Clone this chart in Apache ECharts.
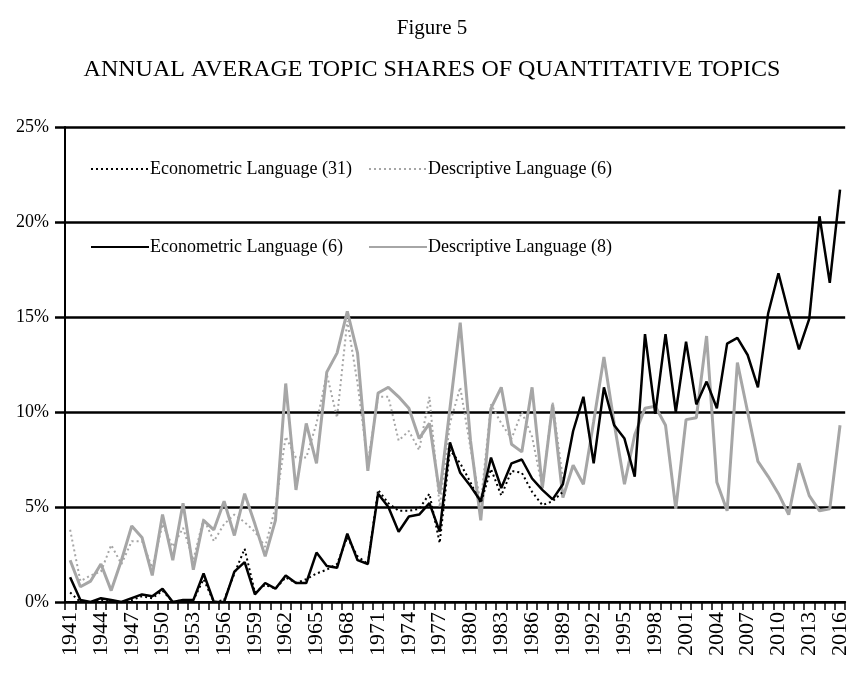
<!DOCTYPE html>
<html>
<head>
<meta charset="utf-8">
<script src="https://cdn.jsdelivr.net/npm/echarts@6/dist/echarts.min.js"></script>
<style>
  html, body { margin: 0; padding: 0; background: #fff; }
  #main { width: 851px; height: 684px; }
</style>
</head>
<body>
<div id="main"></div>
<script>
// years on the x axis
const years = [];
for (let y = 1941; y <= 2016; y++) years.push(String(y));

// annual average topic shares (%)
const econ31 = [0.5, 0.0, 0.0, 0.1, 0.1, 0.0, 0.1, 0.3, 0.2, 0.6,
  0.0, 0.1, 0.1, 1.2, 0.0, 0.1, 1.5, 2.8, 0.5, 0.9,
  0.7, 1.3, 1.0, 1.2, 1.5, 1.7, 2.0, 3.4, 2.4, 2.0,
  5.9, 5.2, 4.8, 4.8, 4.9, 5.7, 3.1, 8.0, 7.3, 6.3,
  5.2, 7.0, 5.6, 6.9, 6.8, 5.8, 5.1, 5.3, 5.8];

const desc6 = [3.8, 1.1, 1.4, 1.6, 3.0, 2.0, 3.2, 3.2, 1.8, 4.1,
  2.9, 3.9, 2.2, 4.4, 3.2, 4.1, 4.6, 4.2, 3.7, 2.9,
  5.0, 8.7, 7.6, 7.6, 9.4, 12.0, 9.7, 14.8, 11.5, 7.3,
  10.8, 10.8, 8.5, 9.0, 8.0, 10.8, 5.0, 9.4, 11.3, 8.1,
  5.2, 10.4, 9.4, 8.6, 10.0, 8.7, 6.0, 10.5, 6.5];

const econ6 = [1.3, 0.1, 0.0, 0.2, 0.1, 0.0, 0.2, 0.4, 0.3, 0.7,
  0.0, 0.1, 0.1, 1.5, 0.0, 0.0, 1.6, 2.1, 0.4, 1.0,
  0.7, 1.4, 1.0, 1.0, 2.6, 1.9, 1.8, 3.6, 2.2, 2.0,
  5.7, 5.0, 3.7, 4.5, 4.6, 5.2, 3.7, 8.4, 6.8, 6.1,
  5.3, 7.6, 6.0, 7.3, 7.5, 6.5, 5.9, 5.4, 6.2, 9.0,
  10.8, 7.3, 11.3, 9.3, 8.6, 6.6, 14.1, 9.9, 14.1, 10.0,
  13.7, 10.4, 11.6, 10.2, 13.6, 13.9, 13.0, 11.3, 15.2, 17.3,
  15.2, 13.3, 14.9, 20.3, 16.8, 21.7];

const desc8 = [2.2, 0.8, 1.1, 2.0, 0.6, 2.2, 4.0, 3.4, 1.4, 4.6,
  2.2, 5.2, 1.7, 4.3, 3.8, 5.3, 3.5, 5.7, 4.1, 2.4,
  4.3, 11.5, 5.9, 9.4, 7.3, 12.1, 13.1, 15.3, 13.1, 6.9,
  11.0, 11.3, 10.8, 10.2, 8.6, 9.4, 5.7, 10.2, 14.7, 8.5,
  4.3, 10.2, 11.3, 8.3, 7.9, 11.3, 6.0, 10.4, 5.5, 7.2,
  6.2, 9.5, 12.9, 9.4, 6.2, 8.8, 10.2, 10.3, 9.3, 4.9,
  9.6, 9.7, 14.0, 6.3, 4.8, 12.6, 10.0, 7.4, 6.6, 5.7,
  4.6, 7.3, 5.6, 4.8, 4.9, 9.3];

const yTicks = [0, 5, 10, 15, 20, 25];

const serif = 'Liberation Serif';
const gray = '#a6a6a6';

function legendItem(name, left, top) {
  return {
    data: [name],
    left: left,
    top: top,
    padding: 0,
    orient: 'horizontal',
    itemWidth: 58,
    itemHeight: 12,
    itemStyle: { opacity: 0 },
    selectedMode: false,
    textStyle: { fontFamily: serif, fontSize: 18, color: '#000', padding: [0, 0, 0, -4] }
  };
}

let chart = echarts.init(document.getElementById('main'));

let option = {
  animation: false,
  backgroundColor: '#fff',
  graphic: [
    {
      type: 'text', x: 432, y: 28,
      style: { text: 'Figure 5', fontFamily: serif, fontSize: 21, fill: '#000', textAlign: 'center', textVerticalAlign: 'middle' }
    },
    {
      type: 'text', x: 432, y: 70,
      style: { text: 'ANNUAL AVERAGE TOPIC SHARES OF QUANTITATIVE TOPICS', fontFamily: serif, fontSize: 24, fill: '#000', textAlign: 'center', textVerticalAlign: 'middle' }
    }
  ],
  legend: [
    legendItem('Econometric Language (31)', 90, 160),
    legendItem('Descriptive Language (6)', 368, 160),
    legendItem('Econometric Language (6)', 90, 238),
    legendItem('Descriptive Language (8)', 368, 238)
  ],
  grid: { left: 65, right: 0, top: 127, bottom: 82, containLabel: false },
  xAxis: {
    type: 'category',
    data: years,
    boundaryGap: true,
    axisLine: { lineStyle: { color: '#000', width: 2 } },
    axisTick: { show: true, interval: 0, length: 8, lineStyle: { color: '#000', width: 1.5 } },
    axisLabel: {
      interval: 2,
      rotate: 90,
      margin: 10,
      fontFamily: serif,
      fontSize: 22,
      color: '#000'
    },
    splitLine: { show: false }
  },
  yAxis: {
    type: 'value',
    min: yTicks[0],
    max: yTicks[yTicks.length - 1],
    interval: 5,
    axisLine: { show: true, lineStyle: { color: '#000', width: 2 } },
    axisTick: { show: true, length: 10, lineStyle: { color: '#000', width: 2.5 } },
    axisLabel: {
      formatter: '{value}%',
      margin: 16,
      fontFamily: serif,
      fontSize: 18,
      color: '#000'
    },
    splitLine: { show: true, lineStyle: { color: '#000', width: 2.5 } }
  },
  series: [
    {
      name: 'Descriptive Language (8)',
      type: 'line',
      data: desc8,
      symbol: 'none',
      lineStyle: { color: gray, width: 3 },
      itemStyle: { color: gray },
      z: 2
    },
    {
      name: 'Descriptive Language (6)',
      type: 'line',
      data: desc6,
      symbol: 'none',
      lineStyle: { color: gray, width: 2, type: [2, 3] },
      itemStyle: { color: gray },
      z: 3
    },
    {
      name: 'Econometric Language (6)',
      type: 'line',
      data: econ6,
      symbol: 'none',
      lineStyle: { color: '#000', width: 2.5 },
      itemStyle: { color: '#000' },
      z: 4
    },
    {
      name: 'Econometric Language (31)',
      type: 'line',
      data: econ31,
      symbol: 'none',
      lineStyle: { color: '#000', width: 2, type: [2, 3] },
      itemStyle: { color: '#000' },
      z: 5
    }
  ]
};

chart.setOption(option);
</script>
</body>
</html>
